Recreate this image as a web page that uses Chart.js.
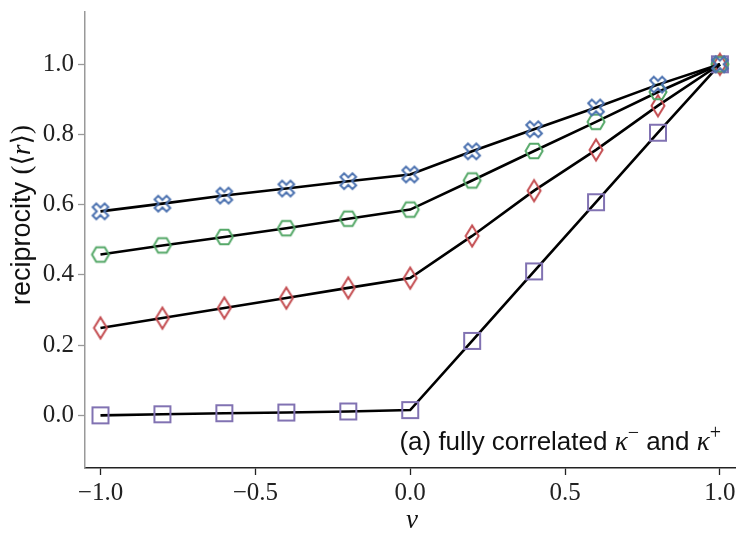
<!DOCTYPE html>
<html lang="en">
<head>
<meta charset="utf-8">
<title>reciprocity vs nu</title>
<script src="https://cdn.jsdelivr.net/npm/chart.js@4.4.0/dist/chart.umd.min.js"></script>
<style>
  body { margin: 0; background: #fff; }
  #wrap { width: 747px; height: 541px; }
</style>
</head>
<body>
<div id="wrap"><canvas id="c"></canvas></div>
<script>
// values
const nu = [-1.0, -0.8, -0.6, -0.4, -0.2, 0.0, 0.2, 0.4, 0.6, 0.8, 1.0];
const recipBlue   = [0.581, 0.603, 0.626, 0.646, 0.667, 0.686, 0.752, 0.815, 0.877, 0.942, 1.0];
const recipGreen  = [0.458, 0.484, 0.508, 0.533, 0.560, 0.586, 0.669, 0.753, 0.836, 0.921, 1.0];
const recipRed    = [0.249, 0.277, 0.306, 0.334, 0.363, 0.391, 0.511, 0.640, 0.756, 0.882, 1.0];
const recipPurple = [0.000, 0.003, 0.006, 0.008, 0.011, 0.015, 0.212, 0.410, 0.607, 0.805, 1.0];
const xTicks = [-1.0, -0.5, 0.0, 0.5, 1.0];
const yTicks = [0.0, 0.2, 0.4, 0.6, 0.8, 1.0];

const SERIF = '"Liberation Serif", "DejaVu Serif", serif';
const SANS = '"Liberation Sans", "DejaVu Sans", sans-serif';

// marker images (hollow, like matplotlib with facecolor none)
function marker(kind, color) {
  const n = 30, c = n / 2;
  const cv = document.createElement('canvas');
  cv.width = n; cv.height = n;
  const g = cv.getContext('2d');
  g.strokeStyle = color;
  g.lineWidth = 2;
  g.lineJoin = 'miter';
  g.beginPath();
  if (kind === 'square') {
    g.rect(c - 8, c - 8, 16, 16);
  } else if (kind === 'hex') {
    for (let i = 0; i < 6; i++) {
      const a = i * Math.PI / 3;
      const px = c + 8.5 * Math.cos(a), py = c + 8.5 * Math.sin(a);
      if (i === 0) g.moveTo(px, py); else g.lineTo(px, py);
    }
    g.closePath();
  } else if (kind === 'thindiamond') {
    g.moveTo(c, c - 10.5);
    g.lineTo(c + 6.5, c);
    g.lineTo(c, c + 10.5);
    g.lineTo(c - 6.5, c);
    g.closePath();
  } else if (kind === 'X') {
    // thick cross rotated 45 degrees
    const a = 8.5, t = 2.6;
    const v = [[-a, -t], [-t, -t], [-t, -a], [t, -a], [t, -t], [a, -t],
               [a, t], [t, t], [t, a], [-t, a], [-t, t], [-a, t]];
    const r = Math.SQRT1_2;
    v.forEach(function (p, i) {
      const px = c + (p[0] - p[1]) * r;
      const py = c + (p[0] + p[1]) * r;
      if (i === 0) g.moveTo(px, py); else g.lineTo(px, py);
    });
    g.closePath();
  }
  g.stroke();
  return cv;
}

function pts(ys) {
  return nu.map(function (x, i) { return { x: x, y: ys[i] }; });
}

function series(ys, img) {
  return {
    data: pts(ys),
    borderColor: '#000',
    borderWidth: 2.6,
    pointStyle: img,
    pointRadius: 9,
    pointHoverRadius: 9,
    fill: false,
    tension: 0,
    clip: false
  };
}

function fmt(v) {
  if (Math.abs(v) < 1e-9) v = 0;
  return v.toFixed(1).replace('-', '\u2212');
}

// text made of [text, font, dy] pieces
function runWidth(ctx, parts) {
  let w = 0;
  parts.forEach(function (p) { ctx.font = p[1]; w += ctx.measureText(p[0]).width; });
  return w;
}
function drawRun(ctx, parts, x, y) {
  parts.forEach(function (p) {
    ctx.font = p[1];
    ctx.fillText(p[0], x, y + (p[2] || 0));
    x += ctx.measureText(p[0]).width;
  });
}

const labels = {
  id: 'labels',
  afterDraw: function (chart) {
    const ctx = chart.ctx;
    ctx.save();
    ctx.fillStyle = '#111';
    ctx.textBaseline = 'alphabetic';
    ctx.textAlign = 'left';

    // y title
    const yParts = [
      ['reciprocity ', '27px ' + SANS],
      ['(\u27e8', '27px ' + SERIF],
      ['r', 'italic 27px ' + SERIF],
      ['\u27e9)', '27px ' + SERIF]
    ];
    ctx.save();
    ctx.translate(30, 215);
    ctx.rotate(-Math.PI / 2);
    drawRun(ctx, yParts, -runWidth(ctx, yParts) / 2, 0);
    ctx.restore();

    // x title
    ctx.font = 'italic 27px ' + SERIF;
    ctx.textAlign = 'center';
    ctx.fillText('\u03bd', 412, 528);
    ctx.textAlign = 'left';

    // panel note
    const aParts = [
      ['(a) fully correlated ', '26px ' + SANS],
      ['\u03ba', 'italic 27px ' + SERIF],
      ['\u2212', '20px ' + SERIF, -11],
      [' and ', '26px ' + SANS],
      ['\u03ba', 'italic 27px ' + SERIF],
      ['+', '20px ' + SERIF, -11]
    ];
    drawRun(ctx, aParts, 721 - runWidth(ctx, aParts), 450);
    ctx.restore();
  }
};

new Chart(document.getElementById('c'), {
  type: 'line',
  data: {
    datasets: [
      series(recipBlue, marker('X', '#4C72B0')),
      series(recipGreen, marker('hex', '#55A868')),
      series(recipRed, marker('thindiamond', '#C44E52')),
      series(recipPurple, marker('square', '#8172B2'))
    ]
  },
  options: {
    responsive: true,
    maintainAspectRatio: false,
    animation: false,
    layout: { padding: { top: 6, right: 7, left: 0, bottom: 0 } },
    plugins: { legend: { display: false }, tooltip: { enabled: false } },
    scales: {
      x: {
        type: 'linear',
        min: -1.05,
        max: 1.05,
        afterBuildTicks: function (s) { s.ticks = xTicks.map(function (v) { return { value: v }; }); },
        afterFit: function (s) { s.height = 73; s.paddingLeft = 0; s.paddingRight = 0; },
        ticks: {
          callback: fmt,
          font: { family: SERIF, size: 25 },
          color: '#222',
          padding: 3,
          maxRotation: 0
        },
        grid: { drawOnChartArea: false, tickLength: 7, tickColor: '#222', tickWidth: 1.3 },
        border: { color: '#222', width: 1.5 }
      },
      y: {
        min: -0.15,
        max: 1.15,
        afterBuildTicks: function (s) { s.ticks = yTicks.map(function (v) { return { value: v }; }); },
        afterFit: function (s) { s.width = 85; s.paddingTop = 0; s.paddingBottom = 0; },
        ticks: {
          callback: fmt,
          font: { family: SERIF, size: 25 },
          color: '#222',
          padding: 4
        },
        grid: { drawOnChartArea: false, tickLength: 7, tickColor: '#999', tickWidth: 1.3 },
        border: { color: '#999', width: 1.5 }
      }
    }
  },
  plugins: [labels]
});
</script>
</body>
</html>
